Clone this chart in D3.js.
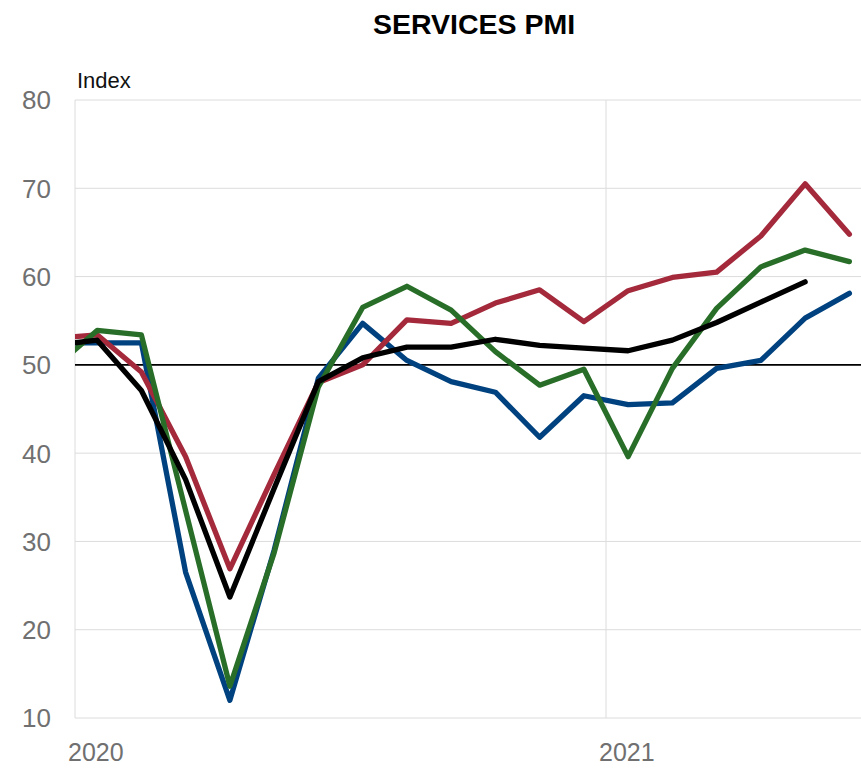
<!DOCTYPE html>
<html>
<head>
<meta charset="utf-8">
<script src="https://cdn.jsdelivr.net/npm/d3@7"></script>
<style>
  html, body { margin: 0; padding: 0; background: #fff; }
  svg { display: block; font-family: "Liberation Sans", Arial, Helvetica, sans-serif; }
</style>
</head>
<body>
<svg id="chart" width="861" height="768"></svg>
<script>
// Months (mid-month points), Dec 2019 .. Jun 2021
const months = ["2019-12","2020-01","2020-02","2020-03","2020-04","2020-05","2020-06","2020-07","2020-08","2020-09","2020-10","2020-11","2020-12","2021-01","2021-02","2021-03","2021-04","2021-05","2021-06"];
const seriesBlue  = [52.5, 52.5, 52.5, 26.5, 12.0, 29.0, 48.5, 54.7, 50.5, 48.1, 46.9, 41.8, 46.5, 45.5, 45.7, 49.6, 50.5, 55.3, 58.1];
const seriesRed   = [53.0, 53.4, 49.2, 39.6, 26.9, 37.6, 48.0, 50.0, 55.1, 54.7, 57.0, 58.5, 54.9, 58.4, 59.9, 60.5, 64.6, 70.5, 64.8];
const seriesGreen = [49.5, 53.9, 53.4, 33.5, 13.6, 28.7, 47.5, 56.5, 58.9, 56.2, 51.5, 47.7, 49.5, 39.6, 49.6, 56.4, 61.1, 63.0, 61.7];
const seriesBlack = [52.2, 52.8, 47.1, 37.0, 23.7, 36.0, 48.1, 50.8, 52.0, 52.0, 52.9, 52.2, 51.9, 51.6, 52.8, 54.8, 57.1, 59.4, null];
const yTicks = [10, 20, 30, 40, 50, 60, 70, 80];
const xTickLabels = ["2020", "2021"];
const xTickMonths = [0, 12]; // months since Jan 1 2020
const title = "SERVICES PMI";
const yLabel = "Index";

(function () {
const svg = d3.select("#chart");
const pLeft = 75, pRight = 871.5, pTop = 100, pBottom = 718;

// x: months since 1 Jan 2020; points at mid-month
const x = d3.scaleLinear().domain([0, 18]).range([pLeft, pRight]);
const y = d3.scaleLinear().domain([10, 80]).range([pBottom, pTop]);
const monthPos = months.map((m, i) => i - 1 + 0.5);

// clip
svg.append("defs").append("clipPath").attr("id", "plot")
  .append("rect").attr("x", pLeft).attr("y", 0).attr("width", 861 - pLeft + 20).attr("height", 768);

// horizontal gridlines
svg.append("g").selectAll("line").data(yTicks).join("line")
  .attr("x1", pLeft).attr("x2", 861)
  .attr("y1", d => y(d)).attr("y2", d => y(d))
  .attr("stroke", "#dcdcdc").attr("stroke-width", 1);

// vertical gridlines
svg.append("g").selectAll("line").data(xTickMonths).join("line")
  .attr("x1", d => x(d)).attr("x2", d => x(d))
  .attr("y1", pTop).attr("y2", pBottom)
  .attr("stroke", "#dcdcdc").attr("stroke-width", 1);

// 50 reference line
svg.append("line")
  .attr("x1", pLeft).attr("x2", 861)
  .attr("y1", y(50)).attr("y2", y(50))
  .attr("stroke", "#000").attr("stroke-width", 1.6);

// y tick labels
svg.append("g").selectAll("text").data(yTicks).join("text")
  .attr("x", 51).attr("y", d => y(d))
  .attr("dy", "0.36em")
  .attr("text-anchor", "end")
  .attr("font-size", 26).attr("fill", "#707070")
  .text(d => d);

// x tick labels
svg.append("g").selectAll("text").data(xTickMonths).join("text")
  .attr("x", d => x(d) - 7).attr("y", 761)
  .attr("text-anchor", "start")
  .attr("font-size", 25).attr("fill", "#707070")
  .text((d, i) => xTickLabels[i]);

// y axis label
svg.append("text").attr("x", 77).attr("y", 88)
  .attr("font-size", 22).attr("fill", "#111").text(yLabel);

// title
svg.append("text").attr("x", 474).attr("y", 34)
  .attr("text-anchor", "middle").attr("font-size", 28.5).attr("font-weight", "bold")
  .attr("fill", "#000").text(title);

const line = d3.line()
  .defined(d => d[1] != null)
  .x(d => x(d[0])).y(d => y(d[1]));

const series = [
  { values: seriesBlue,  color: "#00427f" },
  { values: seriesRed,   color: "#a3293b" },
  { values: seriesGreen, color: "#286e28" },
  { values: seriesBlack, color: "#000000" }
];

const g = svg.append("g").attr("clip-path", "url(#plot)");
series.forEach(s => {
  g.append("path")
    .datum(s.values.map((v, i) => [monthPos[i], v]))
    .attr("d", line)
    .attr("fill", "none")
    .attr("stroke", s.color)
    .attr("stroke-width", 5.3)
    .attr("stroke-linejoin", "round")
    .attr("stroke-linecap", "round");
});
})();
</script>
</body>
</html>
